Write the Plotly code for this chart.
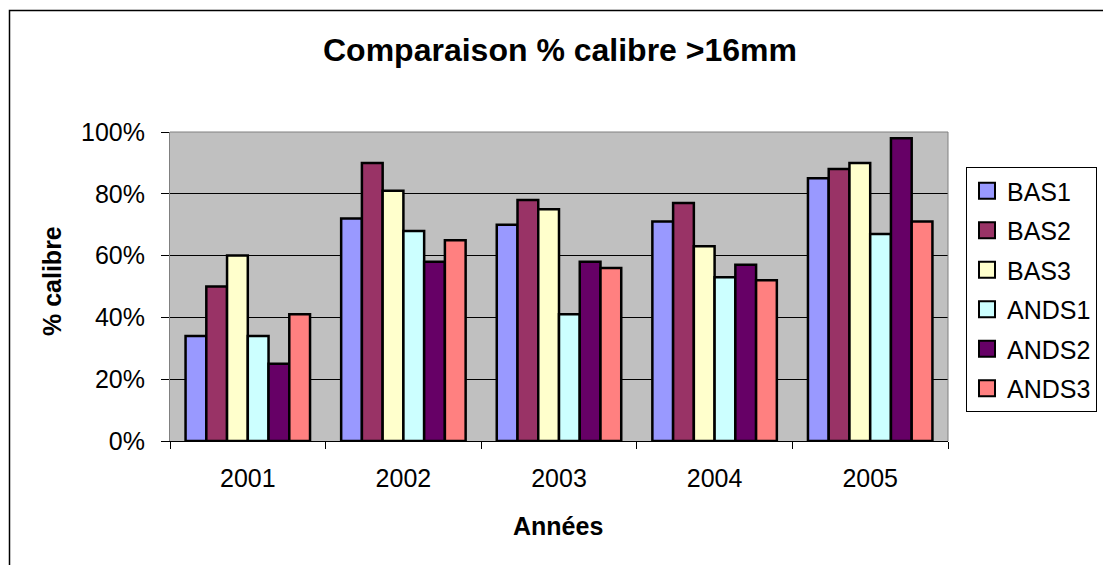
import plotly.graph_objects as go

years = ["2001", "2002", "2003", "2004", "2005"]
series_names = ["BAS1", "BAS2", "BAS3", "ANDS1", "ANDS2", "ANDS3"]
bas1 = [0.34, 0.72, 0.70, 0.71, 0.85]
bas2 = [0.50, 0.90, 0.78, 0.77, 0.88]
bas3 = [0.60, 0.81, 0.75, 0.63, 0.90]
ands1 = [0.34, 0.68, 0.41, 0.53, 0.67]
ands2 = [0.25, 0.58, 0.58, 0.57, 0.98]
ands3 = [0.41, 0.65, 0.56, 0.52, 0.71]
colors = ["#9999FF", "#993366", "#FFFFCC", "#CCFFFF", "#660066", "#FF8080"]
y_ticks = [0, 0.2, 0.4, 0.6, 0.8, 1.0]

W, H = 1103, 565
L, R, T, B = 170, 948, 132, 441

def px(x):
    return (x - L) / (R - L)

def py(y):
    return (B - y) / (B - T)

fig = go.Figure()
for name, vals, col in zip(series_names, [bas1, bas2, bas3, ands1, ands2, ands3], colors):
    fig.add_trace(go.Bar(
        x=years, y=vals, name=name, legendgroup=name, showlegend=False,
        marker=dict(color=col, line=dict(color="black", width=2.5)),
    ))
    # legend entry (square swatch like the original)
    fig.add_trace(go.Scatter(
        x=[None], y=[None], mode="markers", name=name, legendgroup=name,
        marker=dict(symbol="square", size=16, color=col,
                    line=dict(color="black", width=2)),
    ))

font_family = "Liberation Sans, Arial, sans-serif"
fig.update_layout(
    width=W, height=H,
    margin=dict(l=L, r=W - R, t=T, b=H - B, pad=0, autoexpand=False),
    paper_bgcolor="white",
    plot_bgcolor="#C0C0C0",
    barmode="group",
    bargap=0.2,
    bargroupgap=0,
    font=dict(family=font_family, color="black", size=25),
    showlegend=True,
    legend=dict(
        x=px(966), y=py(167), xanchor="left", yanchor="top",
        bordercolor="black", borderwidth=1, bgcolor="white",
        font=dict(size=25), tracegroupgap=4, itemwidth=30,
    ),
    xaxis=dict(
        type="category", tickson="boundaries", ticks="outside", ticklen=7,
        tickcolor="black", showline=True, linecolor="black", linewidth=1,
        showgrid=False, ticklabelstandoff=15, tickfont=dict(size=25),
    ),
    yaxis=dict(
        range=[0, 1], tickvals=y_ticks, tickformat=".0%", ticks="outside",
        ticklen=8, tickcolor="black", showgrid=True, gridcolor="black",
        gridwidth=1, showline=True, linecolor="#808080", linewidth=1,
        zeroline=False, ticklabelstandoff=11, tickfont=dict(size=25),
    ),
    annotations=[
        dict(text="<b>Comparaison % calibre >16mm</b>", x=px(559.5), y=py(50),
             xanchor="center", yanchor="middle",
             xref="paper", yref="paper", showarrow=False, font=dict(size=32)),
        dict(text="<b>Années</b>", x=px(558), y=py(526),
             xanchor="center", yanchor="middle",
             xref="paper", yref="paper", showarrow=False, font=dict(size=25)),
        dict(text="<b>% calibre</b>", x=px(52), y=py(281), textangle=-90,
             xanchor="center", yanchor="middle",
             xref="paper", yref="paper", showarrow=False, font=dict(size=25)),
    ],
    shapes=[
        dict(type="rect", xref="paper", yref="paper",
             x0=px(9.5), x1=px(1110), y0=py(575), y1=py(10.5),
             line=dict(color="black", width=1.5)),
        dict(type="line", xref="paper", yref="paper",
             x0=0, x1=1, y0=1, y1=1, line=dict(color="#808080", width=1)),
        dict(type="line", xref="paper", yref="paper",
             x0=1, x1=1, y0=0, y1=1, line=dict(color="#808080", width=1)),
    ],
)

fig.write_html("out.html", config={"displayModeBar": False},
               post_script="document.body.style.margin='0';")
